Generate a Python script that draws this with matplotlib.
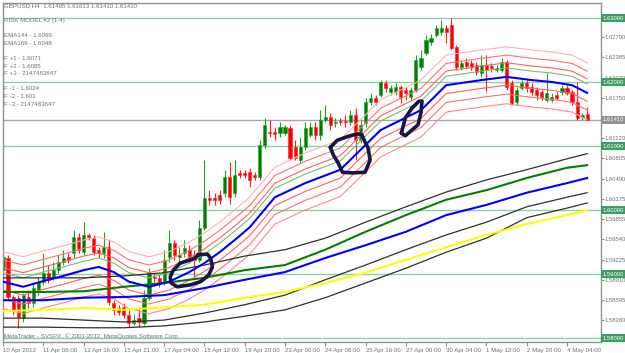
import matplotlib
matplotlib.use('Agg')
import matplotlib.pyplot as plt
import matplotlib.transforms as mtransforms
import numpy as np

# GBPUSD H4 candles, 10 Apr - 4 May 2012
opens = [1.5906, 1.5925, 1.5864, 1.5863, 1.5831, 1.5864, 1.5855, 1.5875, 1.5888, 1.5902,
         1.5895, 1.5906, 1.5919, 1.5927, 1.5933, 1.5958, 1.5934, 1.5961, 1.5956, 1.5938,
         1.5933, 1.5942, 1.5855, 1.5847, 1.5848, 1.5836, 1.5823, 1.5831, 1.5823, 1.5863,
         1.5895, 1.5894, 1.5888, 1.5927, 1.5948, 1.5927, 1.5933, 1.5938, 1.5930, 1.5922,
         1.5972, 1.6019, 1.6019, 1.6023, 1.6027, 1.6052, 1.6027, 1.6058, 1.6058, 1.6059,
         1.6055, 1.6052, 1.6102, 1.6122, 1.6122, 1.6120, 1.6120, 1.6128, 1.6098, 1.6078,
         1.6098, 1.6117, 1.6130, 1.6117, 1.6141, 1.6145, 1.6136, 1.6139, 1.6139, 1.6138,
         1.6148, 1.6109, 1.6136, 1.6169, 1.6175, 1.6180, 1.6198, 1.6184, 1.6184, 1.6192,
         1.6188, 1.6177, 1.6188, 1.6223, 1.6245, 1.6262, 1.6273, 1.6278, 1.6284, 1.6289,
         1.6255, 1.6223, 1.6231, 1.6230, 1.6227, 1.6214, 1.6227, 1.6225, 1.6219, 1.6219,
         1.6231, 1.6198, 1.6169, 1.6191, 1.6198, 1.6192, 1.6188, 1.6184, 1.6172, 1.6172,
         1.6180, 1.6184, 1.6191, 1.6184, 1.6169, 1.6145, 1.61495]
highs = [1.5934, 1.5930, 1.5867, 1.5867, 1.5870, 1.5875, 1.5886, 1.5895, 1.5933, 1.5914,
         1.5919, 1.5930, 1.5938, 1.5933, 1.5969, 1.5964, 1.5981, 1.5964, 1.5961, 1.5942,
         1.5966, 1.5953, 1.5859, 1.5852, 1.5855, 1.5844, 1.5836, 1.5848, 1.5875, 1.5909,
         1.5902, 1.5898, 1.5938, 1.5969, 1.5953, 1.5942, 1.5953, 1.5945, 1.5938, 1.5984,
         1.6078, 1.6031, 1.6027, 1.6031, 1.6063, 1.6075, 1.6078, 1.6063, 1.6063, 1.6066,
         1.6059, 1.6109, 1.6144, 1.6141, 1.6130, 1.6138, 1.6133, 1.6133, 1.6109, 1.6114,
         1.6138, 1.6138, 1.6138, 1.6156, 1.6164, 1.6152, 1.6144, 1.6144, 1.6148, 1.6156,
         1.6159, 1.6141, 1.6175, 1.6183, 1.6180, 1.6203, 1.6203, 1.6195, 1.6198, 1.6195,
         1.6192, 1.6192, 1.6242, 1.6250, 1.6273, 1.6275, 1.6289, 1.6297, 1.6289, 1.6300,
         1.6258, 1.6234, 1.6238, 1.6234, 1.6231, 1.6242, 1.6242, 1.6230, 1.6227, 1.6238,
         1.6234, 1.6203, 1.6192, 1.6203, 1.6203, 1.6198, 1.6192, 1.6188, 1.6214, 1.6183,
         1.6184, 1.6195, 1.6195, 1.6188, 1.6200, 1.6152, 1.61613]
lows = [1.5898, 1.5859, 1.5836, 1.5816, 1.5825, 1.5847, 1.5848, 1.5867, 1.5883, 1.5886,
        1.5891, 1.5902, 1.5914, 1.5917, 1.5925, 1.5933, 1.5930, 1.5953, 1.5930, 1.5925,
        1.5925, 1.5852, 1.5836, 1.5836, 1.5831, 1.5817, 1.5820, 1.5817, 1.5820, 1.5859,
        1.5888, 1.5880, 1.5883, 1.5919, 1.5922, 1.5919, 1.5927, 1.5919, 1.5895, 1.5919,
        1.5969, 1.6008, 1.6008, 1.6009, 1.6020, 1.6009, 1.6020, 1.6050, 1.6050, 1.6036,
        1.6047, 1.6047, 1.6097, 1.6114, 1.6109, 1.6114, 1.6117, 1.6078, 1.6078, 1.6073,
        1.6094, 1.6114, 1.6109, 1.6109, 1.6138, 1.6125, 1.6130, 1.6133, 1.6130, 1.6133,
        1.6078, 1.6105, 1.6130, 1.6164, 1.6164, 1.6177, 1.6184, 1.6180, 1.6180, 1.6167,
        1.6172, 1.6172, 1.6184, 1.6219, 1.6242, 1.6258, 1.6270, 1.6273, 1.6261, 1.6250,
        1.6219, 1.6219, 1.6222, 1.6219, 1.6211, 1.6208, 1.6184, 1.6216, 1.6216, 1.6216,
        1.6188, 1.6164, 1.6164, 1.6188, 1.6184, 1.6180, 1.6172, 1.6172, 1.6169, 1.6169,
        1.6172, 1.6180, 1.6180, 1.6164, 1.6141, 1.6141, 1.61410]
closes = [1.5927, 1.5864, 1.5844, 1.5833, 1.5867, 1.5855, 1.5878, 1.5888, 1.5902, 1.5891,
          1.5906, 1.5919, 1.5925, 1.5922, 1.5958, 1.5938, 1.5961, 1.5958, 1.5934, 1.5933,
          1.5942, 1.5856, 1.5844, 1.5841, 1.5836, 1.5823, 1.5828, 1.5825, 1.5863, 1.5902,
          1.5894, 1.5886, 1.5922, 1.5948, 1.5930, 1.5930, 1.5941, 1.5927, 1.5922, 1.5972,
          1.6019, 1.6016, 1.6016, 1.6016, 1.6052, 1.6020, 1.6055, 1.6055, 1.6055, 1.6047,
          1.6052, 1.6102, 1.6133, 1.6120, 1.6119, 1.6130, 1.6130, 1.6081, 1.6081, 1.6098,
          1.6128, 1.6130, 1.6117, 1.6141, 1.6145, 1.6133, 1.6138, 1.6138, 1.6138, 1.6148,
          1.6109, 1.6133, 1.6169, 1.6175, 1.6169, 1.6200, 1.6191, 1.6191, 1.6192, 1.6177,
          1.6183, 1.6188, 1.6234, 1.6238, 1.6266, 1.6269, 1.6284, 1.6284, 1.6278, 1.6253,
          1.6223, 1.6230, 1.6225, 1.6223, 1.6216, 1.6227, 1.6219, 1.6222, 1.6222, 1.6231,
          1.6192, 1.6167, 1.6188, 1.6198, 1.6191, 1.6184, 1.6180, 1.6177, 1.6183, 1.6177,
          1.6175, 1.6191, 1.6183, 1.6169, 1.6144, 1.6148, 1.61410]

# fast ema and its envelope
fast_bars = [0, 4, 8, 12, 16, 19, 22, 25, 29, 33, 37, 40, 43, 46, 49, 54, 60, 67, 75, 83,
             88, 95, 100, 105, 109, 113, 116]
ema_fast = [1.5888, 1.5880, 1.5889, 1.5897, 1.5906, 1.5911, 1.5903, 1.5888, 1.5880, 1.5888,
            1.5903, 1.5917, 1.5934, 1.5953, 1.5973, 1.6020, 1.6042, 1.6063, 1.6125, 1.6156,
            1.6195, 1.6203, 1.6208, 1.6203, 1.6200, 1.6195, 1.6183]
band_up3 = [1.5935, 1.5927, 1.5936, 1.5944, 1.5953, 1.5958, 1.5950, 1.5935, 1.5927, 1.5935,
            1.5950, 1.5964, 1.5981, 1.6000, 1.6020, 1.6067, 1.6089, 1.6110, 1.6172, 1.6203,
            1.6242, 1.6250, 1.6255, 1.6250, 1.6247, 1.6242, 1.6230]
band_up2 = [1.5922, 1.5914, 1.5923, 1.5931, 1.5940, 1.5945, 1.5937, 1.5922, 1.5914, 1.5922,
            1.5937, 1.5951, 1.5968, 1.5987, 1.6007, 1.6054, 1.6076, 1.6097, 1.6159, 1.6190,
            1.6229, 1.6237, 1.6242, 1.6237, 1.6234, 1.6229, 1.6217]
band_up1 = [1.5910, 1.5902, 1.5911, 1.5919, 1.5928, 1.5933, 1.5925, 1.5910, 1.5902, 1.5910,
            1.5925, 1.5939, 1.5956, 1.5975, 1.5995, 1.6042, 1.6064, 1.6085, 1.6147, 1.6178,
            1.6217, 1.6225, 1.6230, 1.6225, 1.6222, 1.6217, 1.6205]
band_green = [1.5902, 1.5894, 1.5903, 1.5911, 1.5920, 1.5925, 1.5917, 1.5902, 1.5894, 1.5902,
              1.5917, 1.5931, 1.5948, 1.5967, 1.5987, 1.6034, 1.6056, 1.6077, 1.6139, 1.6170,
              1.6209, 1.6217, 1.6222, 1.6217, 1.6214, 1.6209, 1.6197]
band_dn1 = [1.5875, 1.5867, 1.5876, 1.5884, 1.5893, 1.5898, 1.5890, 1.5875, 1.5867, 1.5875,
            1.5890, 1.5904, 1.5921, 1.5940, 1.5960, 1.6007, 1.6029, 1.6050, 1.6112, 1.6143,
            1.6182, 1.6190, 1.6195, 1.6190, 1.6187, 1.6182, 1.6170]
band_dn2 = [1.5861, 1.5853, 1.5862, 1.5870, 1.5879, 1.5884, 1.5876, 1.5861, 1.5853, 1.5861,
            1.5876, 1.5890, 1.5907, 1.5926, 1.5946, 1.5993, 1.6015, 1.6036, 1.6098, 1.6129,
            1.6168, 1.6176, 1.6181, 1.6176, 1.6173, 1.6168, 1.6156]
band_dn3 = [1.5846, 1.5838, 1.5847, 1.5855, 1.5864, 1.5869, 1.5861, 1.5846, 1.5838, 1.5846,
            1.5861, 1.5875, 1.5892, 1.5911, 1.5931, 1.5978, 1.6000, 1.6021, 1.6083, 1.6114,
            1.6153, 1.6161, 1.6166, 1.6161, 1.6158, 1.6153, 1.6141]

# slow tunnel lines, read every 8 bars
slow_bars = [0, 8, 16, 24, 32, 40, 48, 56, 64, 72, 80, 88, 96, 104, 112, 116]
slow_black1 = [1.5894, 1.5894, 1.5894, 1.5897, 1.5902, 1.5914, 1.5928, 1.5938,
               1.5956, 1.5981, 1.6005, 1.6028, 1.6047, 1.6063, 1.6080, 1.6088]
ema144 = [1.5872, 1.5872, 1.5873, 1.5880, 1.5886, 1.5894, 1.5906, 1.5914,
          1.5938, 1.5966, 1.5992, 1.6016, 1.6031, 1.6050, 1.6066, 1.6070]
ema169 = [1.5859, 1.5859, 1.5863, 1.5864, 1.5867, 1.5878, 1.5891, 1.5903,
          1.5925, 1.5945, 1.5966, 1.5992, 1.6008, 1.6027, 1.6042, 1.6050]
slow_black2 = [1.5831, 1.5831, 1.5828, 1.5825, 1.5828, 1.5839, 1.5852, 1.5867,
               1.5891, 1.5914, 1.5938, 1.5961, 1.5981, 1.6005, 1.6020, 1.6027]
slow_black3 = [1.5817, 1.5817, 1.5816, 1.5816, 1.5819, 1.5825, 1.5834, 1.5844,
               1.5863, 1.5886, 1.5909, 1.5934, 1.5956, 1.5988, 1.6003, 1.6011]
slow_yellow = [1.5842, 1.5844, 1.5847, 1.5844, 1.5848, 1.5852, 1.5863, 1.5872,
               1.5886, 1.5902, 1.5922, 1.5942, 1.5961, 1.5978, 1.5992, 1.6000]

# hand drawn loops (bar, price)
loop1_x = [38.8, 40.6, 41.2, 41.6, 40.8, 39.2, 37.2, 34.6, 33.4, 33.2, 33.8, 35.2, 37.2, 38.2, 38.8]
loop1_y = [1.5930, 1.5931, 1.5925, 1.5911, 1.5898, 1.5888, 1.5883, 1.5880, 1.5886, 1.5895,
           1.5906, 1.5917, 1.5922, 1.5925, 1.5930]
loop2_x = [65.0, 66.4, 68.9, 70.5, 71.3, 71.9, 72.5, 72.9, 71.9, 69.5, 67.4, 66.6, 65.6, 65.0]
loop2_y = [1.6098, 1.6109, 1.6116, 1.6119, 1.6117, 1.6106, 1.6097, 1.6078, 1.6059, 1.6058,
           1.6059, 1.6073, 1.6086, 1.6098]
loop3_x = [79.1, 79.9, 81.2, 82.6, 83.2, 83.0, 82.4, 81.2, 79.9, 79.1]
loop3_y = [1.6120, 1.6144, 1.6159, 1.6170, 1.6170, 1.6152, 1.6133, 1.6125, 1.6116, 1.6120]

round_levels = [1.63, 1.62, 1.61, 1.60, 1.59, 1.58]
price_ticks = [1.62700, 1.62385, 1.62070, 1.61750, 1.61120, 1.60805, 1.60490,
               1.60175, 1.59855, 1.59540, 1.59225, 1.58910, 1.58595, 1.58280]
time_labels = ['10 Apr 2012', '11 Apr 08:00', '12 Apr 16:00', '15 Apr 21:00', '17 Apr 04:00',
               '18 Apr 12:00', '19 Apr 20:00', '23 Apr 00:00', '24 Apr 08:00', '25 Apr 16:00',
               '27 Apr 00:00', '30 Apr 04:00', '1 May 12:00', '2 May 20:00', '4 May 04:00']
info_lines = ['RISK MODEL #2 (1-4)', '', 'EMA144 - 1.6069', 'EMA169 - 1.6048', '',
              'F +1 - 1.6071', 'F +2 - 1.6085', 'F +3 - 2147483647', '',
              'F -1 - 1.6024', 'F -2 - 1.601', 'F -3 - 2147483647']

FONT = ['Liberation Sans', 'DejaVu Sans']
FS = 4.4
GRAY = '#707070'

fig = plt.figure(figsize=(6.25, 3.53), dpi=100)
ax = fig.add_axes([3 / 625, 11 / 353, 598 / 625, 339 / 353])
ax.set_xlim(0.1, 118.75)
ax.set_ylim(1.579375, 1.632344)

for lvl in round_levels:
    ax.axhline(lvl, color='#86d4a4', lw=1, zorder=1)
ax.axhline(closes[-1], color='#a8a8a8', lw=1, zorder=1)

# candles
x = np.arange(len(closes))
o = np.array(opens)
c = np.array(closes)
up = c >= o
body_lo = np.minimum(o, c)
body_h = np.maximum(np.abs(c - o), 0.00008)
ax.vlines(x[up], np.array(lows)[up], np.array(highs)[up], color='#22a022', lw=0.8, zorder=2)
ax.vlines(x[~up], np.array(lows)[~up], np.array(highs)[~up], color='#ff2020', lw=0.8, zorder=2)
ax.bar(x[up], body_h[up], bottom=body_lo[up], width=0.62, color='#008000',
       edgecolor='#22a022', lw=0.4, zorder=2)
ax.bar(x[~up], body_h[~up], bottom=body_lo[~up], width=0.62, color='#ff0000',
       edgecolor='#ff2020', lw=0.4, zorder=2)

# envelope around fast ema
for band, col in [(band_up3, '#ffb0b0'), (band_up2, '#ff7070'), (band_up1, '#ff6060'),
                  (band_dn1, '#ff6060'), (band_dn2, '#ff7070'), (band_dn3, '#ff8888')]:
    ax.plot(fast_bars, band, color=col, lw=0.8, zorder=3)
ax.plot(fast_bars, band_green, color='#70c070', lw=0.8, zorder=3)
ax.plot(fast_bars, ema_fast, color='#0000ff', lw=1.5, zorder=4)

# slow tunnel
ax.plot(slow_bars, slow_black1, color='#303030', lw=0.9, zorder=3)
ax.plot(slow_bars, slow_black2, color='#303030', lw=0.9, zorder=3)
ax.plot(slow_bars, slow_black3, color='#303030', lw=0.9, zorder=3)
ax.plot(slow_bars, slow_yellow, color='#ffff00', lw=1.5, zorder=3)
ax.plot(slow_bars, ema169, color='#0000ff', lw=1.5, zorder=3)
ax.plot(slow_bars, ema144, color='#008000', lw=1.5, zorder=3)

for lx, ly in [(loop1_x, loop1_y), (loop2_x, loop2_y), (loop3_x, loop3_y)]:
    ax.plot(lx, ly, color='#161646', lw=2.6, solid_joinstyle='round',
            solid_capstyle='round', zorder=5)

# axes frame
for side in ['left', 'top', 'right', 'bottom']:
    ax.spines[side].set_color('#909090')
    ax.spines[side].set_linewidth(1)
ax.yaxis.tick_right()
ax.set_yticks(price_ticks)
ax.set_yticklabels(['%.5f' % p for p in price_ticks], fontsize=4.2, color=GRAY, family=FONT)
ax.set_xticks(np.arange(0, 113, 8))
ax.set_xticklabels(time_labels, fontsize=FS, color=GRAY, family=FONT, ha='left')
ax.tick_params(axis='x', length=3, width=0.8, color='#909090', pad=1.5)
ax.tick_params(axis='y', length=2, width=0.8, color='#909090', pad=0.5)

# price boxes on the right scale
trans = mtransforms.blended_transform_factory(ax.transAxes, ax.transData)
for lvl in round_levels:
    ax.text(1.003, lvl, '%.5f' % lvl, transform=trans, fontsize=4.2, family=FONT,
            color='white', va='center', ha='left', clip_on=False, zorder=6,
            bbox=dict(boxstyle='square,pad=0.25', fc='#3c9c64', ec='none'))
ax.text(1.003, closes[-1], '%.5f' % closes[-1], transform=trans, fontsize=4.2, family=FONT,
        color='white', va='center', ha='left', clip_on=False, zorder=6,
        bbox=dict(boxstyle='square,pad=0.25', fc='#909090', ec='none'))

# header texts
fig.text(4 / 625, 1 - 6 / 353, 'GBPUSD,H4  %.5f %.5f %.5f %.5f' % (opens[-1], highs[-1], lows[-1], closes[-1]),
         fontsize=FS, color=GRAY, family=FONT, va='center')
for i, t in enumerate(info_lines):
    if t:
        fig.text(4 / 625, 1 - (20.5 + 7.6 * i) / 353, t, fontsize=FS, color=GRAY,
                 family=FONT, va='center')
fig.text(4 / 625, 1 - 336 / 353, 'MetaTrader - SVSPX, \u00a9 2001-2012, MetaQuotes Software Corp.',
         fontsize=FS, color=GRAY, family=FONT, va='center')

fig.savefig('out.png', dpi=100, facecolor='white')
